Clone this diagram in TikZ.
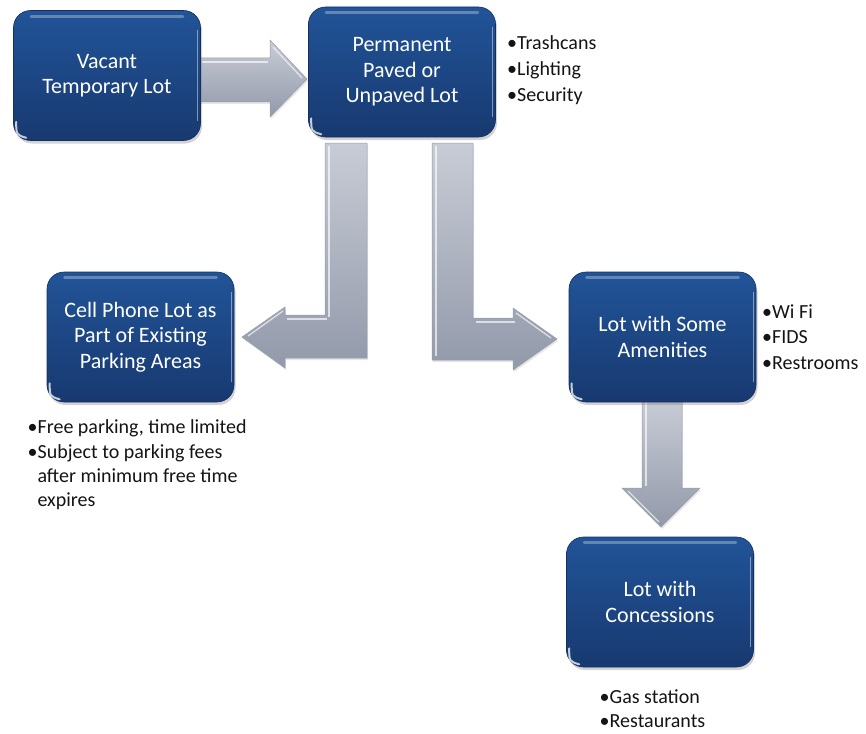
\documentclass[tikz,border=0pt]{standalone}
\usepackage{fontspec}
\setmainfont{Carlito}
\usetikzlibrary{shadows,calc}
\definecolor{boxtop}{RGB}{33,84,152}
\definecolor{boxbot}{RGB}{24,57,112}
\definecolor{boxedge}{RGB}{20,48,96}
\definecolor{arrtop}{RGB}{200,204,214}
\definecolor{arrbot}{RGB}{146,153,169}
\definecolor{arredge}{RGB}{150,156,170}
\definecolor{bultext}{RGB}{20,20,20}
\tikzset{
  box/.style={rounded corners=17pt, minimum width=187pt, minimum height=130pt,
    top color=boxtop, bottom color=boxbot, draw=boxedge, line width=0.6pt,
    text=white, align=center, inner sep=0pt,
    font=\fontsize{22}{25.5}\selectfont,
    drop shadow={shadow xshift=1.5pt, shadow yshift=-3pt, opacity=0.35}},
  blockarrow/.style={top color=arrtop, bottom color=arrbot, draw=arredge, line width=0.5pt,
    drop shadow={shadow xshift=1pt, shadow yshift=-2pt, opacity=0.2}},
  bevel/.style={white, opacity=0.65, line width=1.3pt},
  bul/.style={anchor=base west, inner sep=0pt, text=bultext, font=\fontsize{20}{24}\selectfont},
  gloss/.style={white, opacity=0.3, line width=3pt, line cap=round},
  rim/.style={white, opacity=0.45, line width=1.2pt},
  corner/.style={white, opacity=0.75, line width=2pt, line cap=round}
}
\newcommand{\glossbox}[1]{%
  \draw[gloss] ($(#1.north west)+(18,6)$) -- ($(#1.north east)+(-18,6)$);
  \draw[rim] ($(#1.north east)+(-3,20)$) -- ($(#1.south east)+(-3,-20)$);
  \draw[corner] ($(#1.south west)+(3,-19)$) .. controls ($(#1.south west)+(3,-6)$) .. ($(#1.south west)+(13,-3)$);
}
\begin{document}
\begin{tikzpicture}[x=1pt,y=-1pt]
\useasboundingbox (0,0) rectangle (866,733);
% ---- block arrows (behind boxes)
\path[blockarrow] (200,58) -- (270,58) -- (270,40) -- (307,79) -- (270,117) -- (270,102) -- (200,102) -- cycle;
\draw[bevel] (202,62) -- (268,62);
\draw[bevel] (273,47) -- (302,78);

\path[blockarrow] (325,143) -- (367,143) -- (367,358) -- (285,358) -- (285,368) -- (242,337) -- (285,307) -- (285,315) -- (325,315) -- cycle;
\draw[bevel] (329,146) -- (329,317);
\draw[bevel] (287,319) -- (327,319);
\draw[bevel] (248,336) -- (283,311);

\path[blockarrow] (432,143) -- (473,143) -- (473,318) -- (513,318) -- (513,308) -- (557,339) -- (513,370) -- (513,360) -- (432,360) -- cycle;
\draw[bevel] (436,146) -- (436,356);
\draw[bevel] (476,322) -- (515,322);
\draw[bevel] (516,313) -- (551,338);

\path[blockarrow] (642,400) -- (682,400) -- (682,488) -- (700,488) -- (661,527) -- (622,488) -- (642,488) -- cycle;
\draw[bevel] (646,402) -- (646,486);
\draw[bevel] (628,491) -- (659,522);

% ---- boxes
\node[box] (b1) at (107,75.5) {Vacant\\Temporary Lot};
\node[box] (b2) at (402,72) {Permanent\\Paved or\\Unpaved Lot};
\node[box] (b3) at (140.5,337) {Cell Phone Lot as\\Part of Existing\\Parking Areas};
\node[box] (b4) at (662.5,337) {Lot with Some\\Amenities};
\node[box] (b5) at (660,602) {Lot with\\Concessions};
\glossbox{b1}
\glossbox{b2}
\glossbox{b3}
\glossbox{b4}
\glossbox{b5}

% ---- bullet lists
\node[bul] (l1a) at (507,49.3) {•Trashcans};
\node[bul] (l1b) at (507,75.7) {•Lighting};
\node[bul] (l1c) at (507,101.7) {•Security};

\node[bul] (l2a) at (762,318.3) {•Wi Fi};
\node[bul] (l2b) at (762,343.8) {•FIDS};
\node[bul] (l2c) at (762,369) {•Restrooms};

\node[bul] (l3a) at (27.5,433.3) {•Free parking, time limited};
\node[bul] (l3b) at (27.5,458.3) {•Subject to parking fees};
\node[bul] (l3c) at (37.3,482.7) {after minimum free time};
\node[bul] (l3d) at (37.3,506.5) {expires};

\node[bul] (l4a) at (599.5,703) {•Gas station};
\node[bul] (l4b) at (599.5,727.5) {•Restaurants};
\end{tikzpicture}
\end{document}
